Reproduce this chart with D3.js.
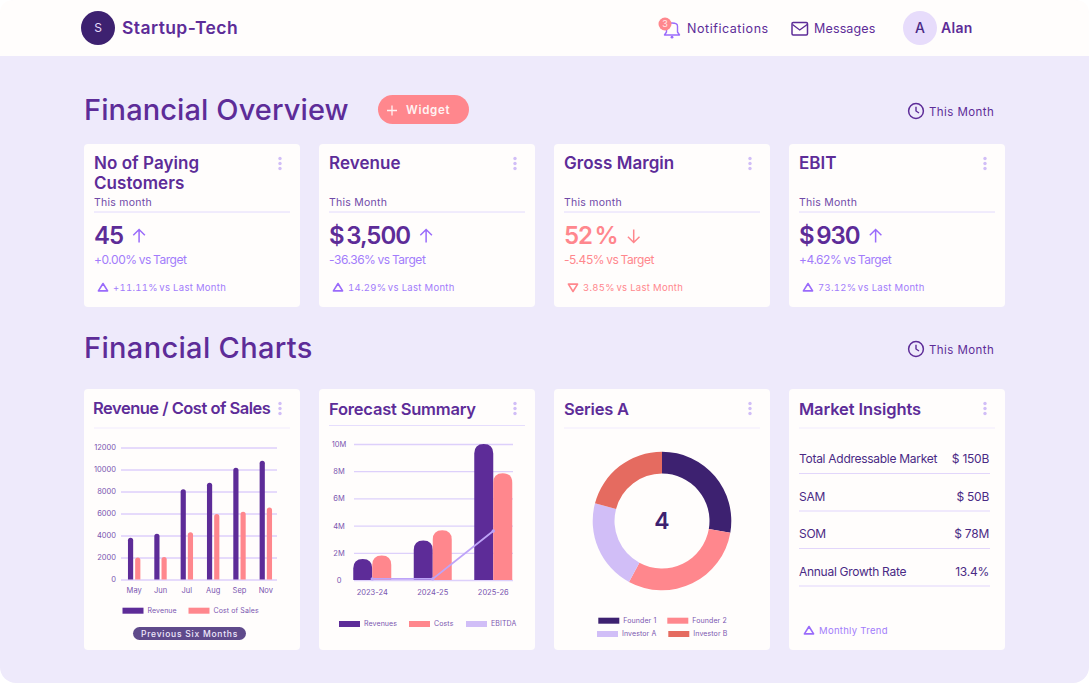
<!DOCTYPE html>
<html><head><meta charset="utf-8">
<script src="https://cdn.jsdelivr.net/npm/d3@7/dist/d3.min.js"></script>
<style>html,body{margin:0;padding:0;background:#fff}svg{display:block}text{font-family:Inter,"Noto Sans",sans-serif}</style>
</head><body><div id="app"></div>
<script>
// ---------- data ----------
const kpiTitles = [["No of Paying","Customers"],["Revenue"],["Gross Margin"],["EBIT"]];
const kpiPeriods = ["This month","This Month","This month","This Month"];
const kpiValues = ["45","$ 3,500","52 %","$ 930"];
const kpiTargets = ["+0.00% vs Target","-36.36% vs Target","-5.45% vs Target","+4.62% vs Target"];
const kpiDeltas = ["+11.11%","14.29%","3.85%","73.12%"];
const kpiUp = [true,true,false,true];

const salesMonths = ["May","Jun","Jul","Aug","Sep","Nov"];
const salesRevenue = [3800,4150,8200,8800,10150,10800];
const salesCost = [2000,2050,4300,5950,6150,6550];
const salesTicks = [0,2000,4000,6000,8000,10000,12000];

const forecastYears = ["2023-24","2024-25","2025-26"];
const forecastRevenues = [1.55,2.9,10];
const forecastCosts = [1.8,3.65,7.85];
const forecastEbitda = [0.08,0.08,3.6];
const forecastTicks = [0,2,4,6,8,10];

const seriesNames = ["Founder 1","Founder 2","Investor A","Investor B"];
const seriesShares = [27.7,30.2,21.2,20.9];
const seriesCenter = "4";

const marketLabels = ["Total Addressable Market","SAM","SOM","Annual Growth Rate"];
const marketValues = ["$ 150B","$ 50B","$ 78M","13.4%"];

// ---------- palette ----------
const C = {purple:"#5d2c98",dark:"#3d2170",violet:"#9a6bfb",coral:"#ff878d",lav:"#d1bef7",red:"#e56b60",
  bg:"#eeeafb",card:"#fffdfc",tick:"#7a55b0",grid:"#cdb8fb"};

const W=1089,H=683;
const svg=d3.select("#app").append("svg").attr("width",W).attr("height",H).attr("viewBox",`0 0 ${W} ${H}`);

function txt(g,x,y,s,o={}){
  const t=g.append("text").attr("x",x).attr("y",y).attr("dy","0.35em").text(s)
    .attr("font-size",o.size||12).attr("font-weight",o.weight||400).attr("fill",o.fill||C.purple)
    .attr("text-anchor",o.anchor||"start").attr("letter-spacing",o.ls||0);
  if(o.ws) t.attr("word-spacing",o.ws);
  if(o.tnum) t.style("font-variant-numeric","tabular-nums");
  return t;
}
function topRound(x,y,w,h,r){
  r=Math.min(r,w/2,h);
  return `M${x},${y+h}V${y+r}Q${x},${y} ${x+r},${y}H${x+w-r}Q${x+w},${y} ${x+w},${y+r}V${y+h}Z`;
}
function triangle(g,cx,cy,up,col){
  const d=up?`M${cx},${cy-4}L${cx+4.6},${cy+3.4}H${cx-4.6}Z`:`M${cx},${cy+4}L${cx+4.6},${cy-3.4}H${cx-4.6}Z`;
  g.append("path").attr("d",d).attr("fill","none").attr("stroke",col).attr("stroke-width",1.6).attr("stroke-linejoin","round");
}
function dots(g,x,y){
  [-5,0,5].forEach(d=>g.append("circle").attr("cx",x).attr("cy",y+d).attr("r",1.7).attr("fill",C.lav));
}
function clock(g,cx,cy){
  g.append("circle").attr("cx",cx).attr("cy",cy).attr("r",7.4).attr("fill","none").attr("stroke",C.purple).attr("stroke-width",1.5);
  g.append("path").attr("d",`M${cx},${cy-4.2}V${cy}L${cx+3},${cy+2}`).attr("fill","none").attr("stroke",C.purple).attr("stroke-width",1.4);
}
function card(x,y,w,h){
  svg.append("rect").attr("x",x).attr("y",y).attr("width",w).attr("height",h).attr("rx",4).attr("fill",C.card);
}
function legendItem(g,x,y,label,col){
  g.append("rect").attr("x",x).attr("y",y-3).attr("width",21).attr("height",6).attr("fill",col);
  txt(g,x+25,y,label,{size:7,fill:C.tick,ls:0.1});
}

// ---------- page frame ----------
svg.append("rect").attr("width",W).attr("height",H).attr("fill","#ffffff");
svg.append("rect").attr("x",0).attr("y",0).attr("width",W).attr("height",H).attr("rx",16).attr("fill",C.bg);
svg.append("path").attr("d",`M0,56V14Q0,0 14,0H${W-14}Q${W},0 ${W},14V56Z`).attr("fill","#fffdfc");

// ---------- header ----------
const hd=svg.append("g");
hd.append("circle").attr("cx",98).attr("cy",28).attr("r",17).attr("fill",C.dark);
txt(hd,98,28,"S",{size:12,fill:"#e7dcfb",anchor:"middle"});
txt(hd,122,28,"Startup-Tech",{size:17.5,weight:600,ls:0.42});
// bell
hd.append("path").attr("d","M667,26 Q667,23 672.5,23 Q678,23 678,26 V32 L680,35 H665 L667,32 Z").attr("transform","translate(-0.5,0)").attr("fill","none").attr("stroke",C.violet).attr("stroke-width",1.4).attr("stroke-linejoin","round");
hd.append("circle").attr("cx",672).attr("cy",37.2).attr("r",1.4).attr("fill",C.violet);
hd.append("circle").attr("cx",665).attr("cy",24).attr("r",6.5).attr("fill",C.coral);
txt(hd,665,24,"3",{size:9,fill:"#ffe9ea",anchor:"middle"});
txt(hd,687,28.5,"Notifications",{size:12.5,weight:400,ls:0.55});
hd.append("rect").attr("x",792).attr("y",22.5).attr("width",15.5).attr("height",12.5).attr("rx",1.2).attr("fill","none").attr("stroke",C.purple).attr("stroke-width",1.5);
hd.append("path").attr("d","M792.5,24.5L799.7,30L807.2,24.5").attr("fill","none").attr("stroke",C.purple).attr("stroke-width",1.4);
txt(hd,814,28.5,"Messages",{size:12.5,weight:400,ls:0.15});
hd.append("circle").attr("cx",920).attr("cy",28).attr("r",17).attr("fill","#e7dcfb");
txt(hd,920,28,"A",{size:14,weight:500,fill:"#4a2a85",anchor:"middle"});
txt(hd,941,28,"Alan",{size:14,weight:600,ls:0.3});

// ---------- section headings ----------
const sec=svg.append("g");
txt(sec,84,110,"Financial Overview",{size:29,weight:500,ls:0.1});
sec.append("rect").attr("x",378).attr("y",95).attr("width",91).attr("height",29).attr("rx",14.5).attr("fill",C.coral);
sec.append("path").attr("d","M392,105.5V115.5M387,110.5H397").attr("stroke","#fff3f3").attr("stroke-width",1.3);
txt(sec,406,110,"Widget",{size:11.5,weight:600,fill:"#fff3f3",ls:0.7});
clock(sec,916,111);
txt(sec,929,111.5,"This Month",{size:11.5,weight:400,ls:0.42});
txt(sec,84,348,"Financial Charts",{size:29,weight:500,ls:0.33});
clock(sec,916,349);
txt(sec,929,349.5,"This Month",{size:11.5,weight:400,ls:0.42});

// ---------- KPI cards ----------
const colX=[84,319,554,789];
kpiValues.forEach((v,i)=>{
  const x0=colX[i], lx=x0+10;
  card(x0,144,216,163);
  const g=svg.append("g");
  const col=kpiUp[i]?C.violet:C.coral;
  kpiTitles[i].forEach((t,k)=>txt(g,lx,163.5+k*19.5,t,{size:17,weight:600,ls:0.05}));
  dots(g,x0+196,163.5);
  txt(g,lx,202.5,kpiPeriods[i],{size:10.5,fill:"#6f4aa8",ls:0.25});
  g.append("line").attr("x1",lx).attr("x2",lx+196).attr("y1",212).attr("y2",212).attr("stroke","#e2dafd").attr("stroke-width",1);
  const vt=txt(g,lx,236,v,{size:24,weight:600,fill:kpiUp[i]?C.purple:C.coral,ls:-1,ws:-2.5});
  const ax=lx+vt.node().getComputedTextLength()+16;
  const dir=kpiUp[i]?1:-1;
  g.append("path").attr("d",`M${ax},${236-6.5*dir}V${236+6.5*dir}M${ax-5.8},${236-0.8*dir}L${ax},${236-6.5*dir}L${ax+5.8},${236-0.8*dir}`)
    .attr("fill","none").attr("stroke",col).attr("stroke-width",1.5);
  txt(g,lx,260,kpiTargets[i],{size:12,fill:kpiUp[i]?"#a27cfb":C.coral,ls:-0.45,ws:-0.8});
  triangle(g,lx+9,287.5,kpiUp[i],col);
  const d=txt(g,lx+19,287.5,kpiDeltas[i],{size:9.5,fill:kpiUp[i]?"#a27cfb":C.coral,ls:0.3,tnum:true});
  d.append("tspan").attr("dx",1.5).text("vs Last Month");
});

// ---------- chart cards ----------
const chartTitles=["Revenue / Cost of Sales","Forecast Summary","Series A","Market Insights"];
const chartTitleSpacing=[-0.5,-0.2,-0.2,-0.1];
const ruleY=[428,425.5,428,428];
chartTitles.forEach((t,i)=>{
  const x0=colX[i];
  card(x0,389,216,261);
  const g=svg.append("g");
  txt(g,i==0?x0+9:x0+10,i==0?408:409,t,{size:16.5,weight:600,ls:chartTitleSpacing[i]});
  dots(g,x0+196,408.5);
  g.append("line").attr("x1",x0+10).attr("x2",x0+206).attr("y1",ruleY[i]).attr("y2",ruleY[i]).attr("stroke",i==1?"#e6defd":"#f1ecfd").attr("stroke-width",1.2);
});

// ---------- Revenue / Cost of Sales ----------
(function(){
  const g=svg.append("g");
  const y=d3.scaleLinear().domain([0,12000]).range([579.5,447.5]);
  const x=d3.scaleBand().domain(salesMonths).range([121,279]);
  const ax=g.append("g").attr("transform","translate(121,0)")
    .call(d3.axisLeft(y).tickValues(salesTicks).tickFormat(d3.format("d")).tickSize(-156).tickPadding(5));
  ax.select(".domain").remove();
  ax.selectAll("line").attr("stroke",C.grid).attr("stroke-width",1);
  ax.selectAll("text").attr("fill",C.tick).attr("font-size",7.5).attr("font-family","Inter");
  const bw=5.2;
  g.selectAll(".rev").data(salesRevenue).join("path").attr("fill",C.purple)
    .attr("d",(d,i)=>topRound(x(salesMonths[i])+x.bandwidth()/2-bw-1,y(d),bw,y(0)-y(d),2.6));
  g.selectAll(".cost").data(salesCost).join("path").attr("fill",C.coral)
    .attr("d",(d,i)=>topRound(x(salesMonths[i])+x.bandwidth()/2+1,y(d),bw,y(0)-y(d),2.6));
  salesMonths.forEach(m=>txt(g,x(m)+x.bandwidth()/2,590,m,{size:7.5,fill:C.tick,anchor:"middle"}));
  legendItem(g,122.5,610.7,"Revenue",C.purple);
  legendItem(g,188.5,610.7,"Cost of Sales",C.coral);
  g.append("rect").attr("x",133).attr("y",627).attr("width",113).attr("height",13).attr("rx",6.5).attr("fill","#5f4a8b");
  txt(g,189.5,633.7,"Previous Six Months",{size:8.5,weight:500,fill:"#efe8fd",anchor:"middle",ls:0.75});
})();

// ---------- Forecast Summary ----------
(function(){
  const g=svg.append("g");
  const y=d3.scaleLinear().domain([0,10]).range([580,444]);
  const x=d3.scaleBand().domain(forecastYears).range([342,523.5]);
  const ax=g.append("g").attr("transform","translate(354,0)")
    .call(d3.axisLeft(y).tickValues(forecastTicks).tickFormat(d=>d===0?"0":d+"M").tickSize(-159).tickPadding(0));
  ax.select(".domain").remove();
  ax.selectAll("line").attr("stroke","#ddd0fb").attr("stroke-width",1.3);
  ax.selectAll("text").attr("fill",C.tick).attr("font-size",7.5).attr("font-family","Inter").attr("text-anchor","middle").attr("x",-15);
  const bw=19;
  const mid=i=>x(forecastYears[i])+x.bandwidth()/2;
  g.selectAll(".frev").data(forecastRevenues).join("path").attr("fill",C.purple)
    .attr("d",(d,i)=>topRound(mid(i)-bw,y(d),bw,y(0)-y(d),9.5));
  g.selectAll(".fcost").data(forecastCosts).join("path").attr("fill",C.coral)
    .attr("d",(d,i)=>topRound(mid(i),y(d),bw,y(0)-y(d),9.5));
  const line=d3.line().x((d,i)=>mid(i)).y(d=>y(d));
  g.append("path").attr("d",line(forecastEbitda)).attr("fill","none").attr("stroke","#bea4f8").attr("stroke-width",1.8);
  g.selectAll(".fpt").data(forecastEbitda).join("circle").attr("cx",(d,i)=>mid(i)).attr("cy",d=>y(d)).attr("r",1.7).attr("fill","#bea4f8");
  forecastYears.forEach((m,i)=>txt(g,mid(i),592,m,{size:7.5,fill:C.tick,anchor:"middle"}));
  legendItem(g,339,624,"Revenues",C.purple);
  legendItem(g,409,624,"Costs",C.coral);
  legendItem(g,466,624,"EBITDA",C.lav);
})();

// ---------- Series A ----------
(function(){
  const g=svg.append("g");
  const cols=[C.dark,C.coral,C.lav,C.red];
  const pie=d3.pie().sort(null)(seriesShares);
  const arc=d3.arc().innerRadius(47.5).outerRadius(69.3);
  const c=g.append("g").attr("transform","translate(662,521)");
  c.selectAll("path").data(pie).join("path").attr("d",arc).attr("fill",(d,i)=>cols[i]);
  txt(g,662,521,seriesCenter,{size:23,weight:600,fill:C.dark,anchor:"middle"});
  const lx=[598.3,667.3,597,668.3], ly=[620.7,620.7,634,634];
  seriesNames.forEach((n,i)=>legendItem(g,lx[i],ly[i],n,cols[i]));
})();

// ---------- Market Insights ----------
(function(){
  const g=svg.append("g");
  const y=d3.scaleBand().domain(marketLabels).range([440.5,590.5]);
  marketLabels.forEach((l,i)=>{
    const cy=y(l)+18.5;
    txt(g,799,cy,l,{size:12,fill:"#4a2a85",ls:-0.28});
    txt(g,989,cy,marketValues[i],{size:12,fill:"#4a2a85",anchor:"end",ls:-0.25});
    const ry=y(l)+33;
    g.append("line").attr("x1",799).attr("x2",990).attr("y1",ry).attr("y2",ry).attr("stroke","#e2d6fb").attr("stroke-width",1.2);
  });
  triangle(g,809,630.5,true,C.violet);
  txt(g,819,630.5,"Monthly Trend",{size:9.5,fill:"#a27cfb",ls:0.3});
})();
</script></body></html>
